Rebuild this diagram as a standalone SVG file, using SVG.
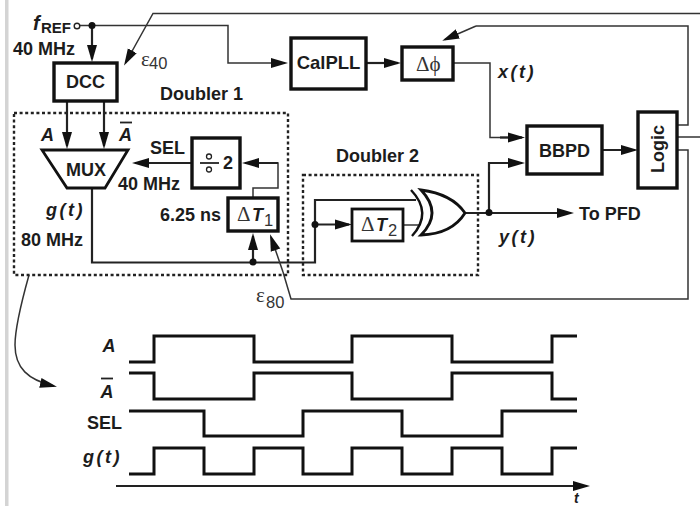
<svg xmlns="http://www.w3.org/2000/svg" width="700" height="506" viewBox="0 0 700 506">
<style>
text{font-family:"Liberation Sans",Arial,sans-serif;font-weight:bold;font-size:18px;fill:#1c1c1c}
.m{text-anchor:middle}
.i{font-style:italic}
.fn{letter-spacing:2.5px}
.s{font-family:"Liberation Serif",serif;font-weight:normal;fill:#333;font-size:21px}
.n{font-weight:normal;fill:#333;font-size:16.5px}
.b{fill:#fff;stroke:#111;stroke-width:3.4}
.w{fill:none;stroke:#222;stroke-width:2.2}
.a{fill:none;stroke:#222;stroke-width:2.2;marker-end:url(#ar)}
.t{fill:none;stroke:#333;stroke-width:1.5}
.ta{fill:none;stroke:#333;stroke-width:1.5;marker-end:url(#ar)}
.d{fill:none;stroke:#222;stroke-width:2.4;stroke-dasharray:3 2.6}
.wave{fill:none;stroke:#111;stroke-width:3}
.dot{fill:#111}
</style>
<defs>
<marker id="ar" markerUnits="userSpaceOnUse" markerWidth="18" markerHeight="12" viewBox="0 0 18 12" refX="14" refY="6" orient="auto">
<path d="M0 1L17 6L0 11Z" fill="#111"/>
</marker>
</defs>
<rect x="0" y="0" width="700" height="506" fill="#fff"/>
<rect id="frame-bar" x="5" y="0" width="3.5" height="506" fill="#d4d4d4"/>

<g id="connectors">
<path class="ta" d="M80 25.5H228V63H285"/>
<path class="a" d="M92 25.5V59"/>
<path class="ta" d="M700 13.5H153L125.500 63"/>
<path class="a" d="M67 101V146"/>
<path class="a" d="M104 101V146"/>
<path class="a" d="M192 163H135"/>
<path class="t" d="M253 198V188H278V163H262"/>
<path class="a" d="M278 163H245"/>
<path class="w" d="M92 188V262.500H315V200H416"/>
<path class="a" d="M253 262V236"/>
<path class="a" d="M315 224.500H349"/>
<path class="t" d="M403 225H420"/>
<path class="a" d="M366 63H398"/>
<path class="t" d="M453 63H490V137.500H521"/>
<path class="a" d="M500 137.500H522"/>
<path class="a" d="M465 213H571"/>
<path class="a" d="M489 213V163H522"/>
<path class="a" d="M602 150H635"/>
<path class="t" d="M677 125H688V26H476"/>
<path class="ta" d="M476 26L445 39.500"/>
<path class="t" d="M677 137H700"/>
<path class="t" d="M677 150H688V299H291L283 272"/>
<path class="ta" d="M283 272L271 237"/>
<path class="ta" d="M29 275C22 300 15 330 15 345C15 368 28 380 54 386"/>
<circle class="dot" cx="92" cy="25.500" r="3.500"/>
<circle class="dot" cx="253" cy="262" r="3.500"/>
<circle class="dot" cx="315" cy="224.500" r="3.500"/>
<circle class="dot" cx="489" cy="212.500" r="3.500"/>
</g>

<g id="fref">
<circle cx="77" cy="26" r="2.800" fill="#fff" stroke="#222" stroke-width="1.400"/>
<text class="i" x="33" y="30" style="font-size:20px">f</text>
<text x="41" y="33" style="font-size:15px">REF</text>
<text x="13" y="55">40 MHz</text>
</g>
<g id="eps40">
<text class="s" x="141" y="66">ε</text>
<text class="n" x="149" y="69">40</text>
</g>
<g id="dcc">
<rect class="b" x="54" y="63" width="63" height="38"/>
<text class="m" x="85.500" y="88">DCC</text>
</g>
<g id="doubler1">
<rect class="d" x="14" y="113" width="274" height="162"/>
<text x="160" y="100">Doubler 1</text>
</g>
<g id="mux">
<path class="b" d="M42 150H128L105 188H67Z" style="stroke-width:2.800"/>
<text class="m" x="86" y="176">MUX</text>
<text class="i" x="41" y="141">A</text>
<text class="i" x="119" y="141">A</text>
<path d="M120 122.500H132" stroke="#222" stroke-width="1.800"/>
<text x="150" y="154">SEL</text>
<text x="118" y="190">40 MHz</text>
</g>
<g id="g-label">
<text class="i fn" x="46" y="216">g(t)</text>
<text x="21" y="246">80 MHz</text>
</g>
<g id="div2">
<rect class="b" x="192" y="138" width="48" height="50"/>
<path d="M200 163H219" stroke="#222" stroke-width="1.800"/>
<circle cx="209" cy="156.500" r="2.500" fill="none" stroke="#222" stroke-width="1.300"/>
<circle cx="209" cy="169.500" r="2.500" fill="none" stroke="#222" stroke-width="1.300"/>
<text x="223" y="169">2</text>
</g>
<g id="dt1">
<rect class="b" x="228" y="198" width="50" height="33"/>
<text class="s" x="237" y="221">Δ</text>
<text class="i" x="252" y="221">T</text>
<text class="n" x="264" y="226">1</text>
<text x="160" y="221">6.25 ns</text>
</g>
<g id="eps80">
<text class="s" x="256" y="302">ε</text>
<text class="n" x="266" y="308">80</text>
</g>
<g id="calpll">
<rect class="b" x="291" y="38" width="75" height="51"/>
<text class="m" x="328.500" y="69" style="font-size:18.500px">CalPLL</text>
</g>
<g id="dphi">
<rect class="b" x="402" y="47" width="51" height="33"/>
<text class="s" x="416" y="71">Δϕ</text>
</g>
<g id="x-label"><text class="i fn" x="498" y="78">x(t)</text></g>
<g id="bbpd">
<rect class="b" x="527" y="126" width="75" height="48"/>
<text class="m" x="564.500" y="157">BBPD</text>
</g>
<g id="logic">
<rect class="b" x="638" y="112" width="39" height="76"/>
<text class="m" transform="translate(664,149) rotate(-90)">Logic</text>
</g>
<g id="doubler2">
<rect class="d" x="303" y="175" width="175" height="100"/>
<text x="336" y="162">Doubler 2</text>
</g>
<g id="dt2">
<rect class="b" x="352" y="209" width="51" height="32" style="stroke-width:2.800"/>
<text class="s" x="361" y="231">Δ</text>
<text class="i" x="376" y="231">T</text>
<text class="n" x="388" y="236">2</text>
</g>
<g id="xor">
<path d="M411 190Q433 213 412 236" fill="none" stroke="#111" stroke-width="2.400"/>
<path d="M421 190Q443 213 421 235Q452 234 465 213Q452 194 421 190Z" fill="#fff" stroke="#111" stroke-width="2.800"/>
</g>
<g id="output">
<text x="579" y="220">To PFD</text>
<text class="i fn" x="499" y="243">y(t)</text>
</g>

<g id="timing">
<text class="i m" x="109" y="352">A</text>
<text class="i m" x="107" y="398">A</text>
<path d="M101 378.500H113" stroke="#222" stroke-width="1.800"/>
<text x="87" y="429">SEL</text>
<text class="i fn" x="83" y="463">g(t)</text>
<path class="wave" d="M129 362H154V336H254V362H352V336H452V362H552V336H577"/>
<path class="wave" d="M129 373H154V399H254V373H352V399H452V373H552V399H577"/>
<path class="wave" d="M129 411H204V436H303V411H402V436H502V411H577"/>
<path class="wave" d="M129 474H154V448H204V474H254V448H303V474H352V448H402V474H452V448H502V474H552V448H577"/>
<path class="a" d="M116 486H587"/>
<text class="i" x="574" y="503" style="font-size:14px">t</text>
</g>
</svg>
